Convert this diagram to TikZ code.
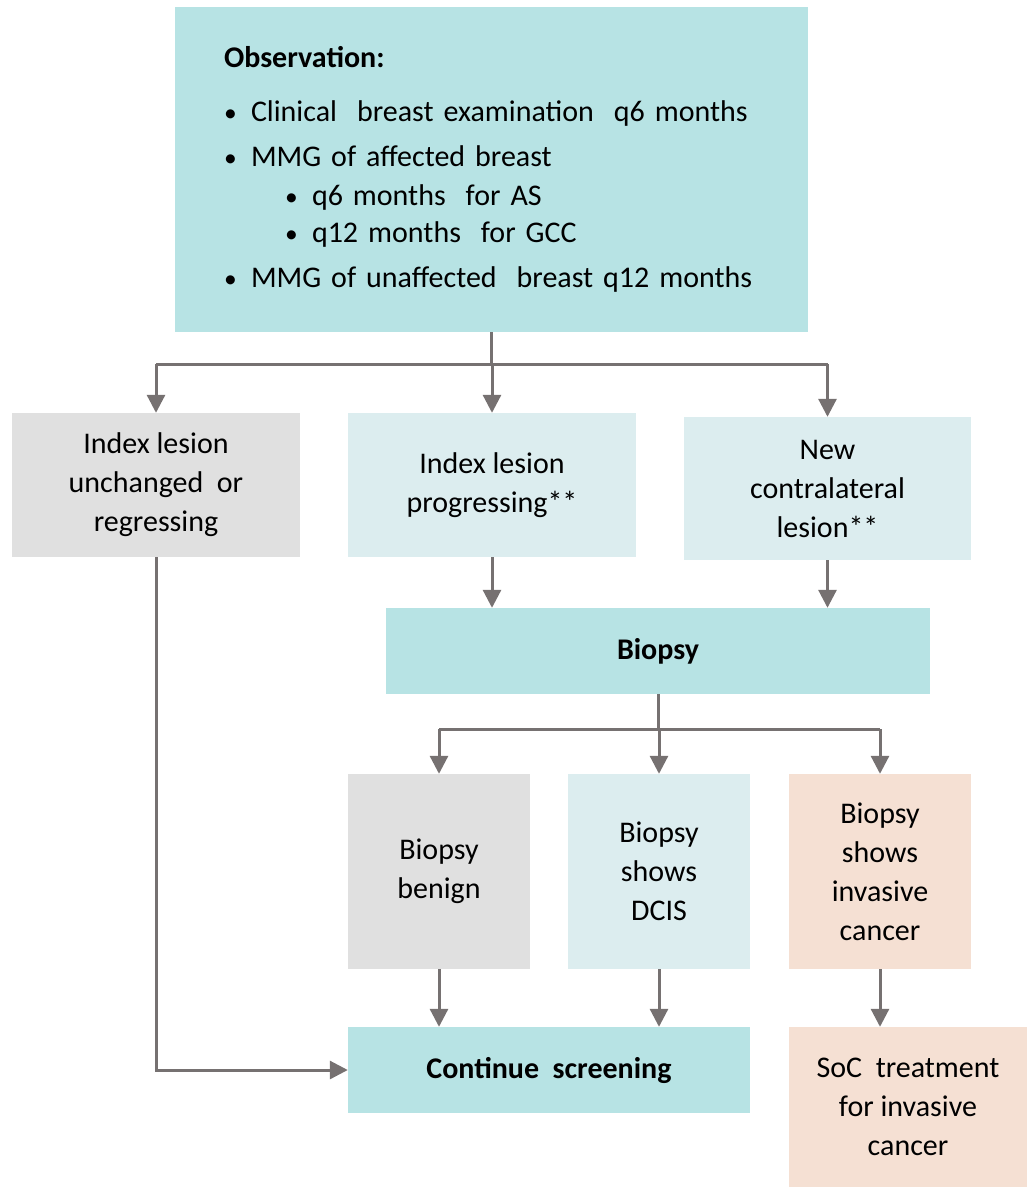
\documentclass[tikz,border=0pt]{standalone}
\usepackage{fontspec}
\setmainfont{Carlito}
\usepackage{xcolor}
\usepackage{tikz}
\usetikzlibrary{positioning,arrows.meta}

\definecolor{tealdark}{HTML}{B7E3E4}
\definecolor{teallight}{HTML}{DCEDEF}
\definecolor{greybox}{HTML}{E0E0E0}
\definecolor{peachbox}{HTML}{F5E0D3}
\definecolor{linegrey}{HTML}{767171}

\newcommand{\obsbul}{\makebox[27pt][l]{\scalebox{0.85}{\textbullet}}}

\tikzset{
  box/.style={rectangle, align=center, inner sep=0pt,
    font=\fontsize{30}{39}\selectfont},
  conn/.style={draw=linegrey, line width=3pt},
  arr/.style={conn, -{Triangle[length=18pt, width=18pt]}}
}

\begin{document}
\begin{tikzpicture}[x=1pt, y=-1pt]
\useasboundingbox (0,0) rectangle (1027,1187);

% top box
\node[box, fill=tealdark, align=left, text width=535pt, inner xsep=49pt,
      minimum width=633pt, minimum height=325pt] (obs) at (491.5,169.5)
  {\textbf{Observation:}\\[15pt]
   \obsbul Clinical\ \ breast examination\ \ q6\ months\\[6pt]
   \obsbul MMG of affected breast\\[0pt]
   \hspace{61pt}\obsbul q6\ months\ \ for AS\\[-2pt]
   \hspace{61pt}\obsbul q12\ months\ \ for GCC\\[6pt]
   \obsbul MMG of unaffected\ \ breast q12\ months};

% second row
\node[box, fill=greybox, minimum width=288pt, minimum height=144pt] (unch) at (156,485)
  {Index lesion\\unchanged\ \ or\\regressing};
\node[box, fill=teallight, minimum width=288pt, minimum height=144pt] (prog) at (492,485)
  {Index lesion\\progressing**};
\node[box, fill=teallight, minimum width=287pt, minimum height=143pt] (newl) at (827.5,488.5)
  {New\\contralateral\\lesion**};

\node[box, fill=tealdark, minimum width=544pt, minimum height=86pt] (biop) at (658,651)
  {\textbf{Biopsy}};

% biopsy results
\node[box, fill=greybox, minimum width=182pt, minimum height=195pt] (beni) at (439,871.5)
  {Biopsy\\benign};
\node[box, fill=teallight, minimum width=182pt, minimum height=195pt] (dcis) at (659,871.5)
  {Biopsy\\shows\\DCIS};
\node[box, fill=peachbox, minimum width=182pt, minimum height=195pt] (inva) at (880,871.5)
  {Biopsy\\shows\\invasive\\cancer};

\node[box, fill=tealdark, minimum width=402pt, minimum height=86pt] (cont) at (549,1070)
  {\textbf{Continue\ \ screening}};
\node[box, fill=peachbox, minimum width=238pt, minimum height=160pt] (soc) at (908,1107)
  {SoC\ \ treatment\\for invasive\\cancer};

% connectors
\coordinate (s1) at (493,364);
\coordinate (s2) at (659,729);

\draw[conn] (obs.south) -- (obs.south |- s1);
\draw[conn] (unch.north |- s1) -- (newl.north |- s1);
\draw[arr] (unch.north |- s1) -- (unch.north);
\draw[arr] (prog.north |- s1) -- (prog.north);
\draw[arr] (newl.north |- s1) -- (newl.north);

\draw[arr] (prog.south) -- (prog.south |- biop.north);
\draw[arr] (newl.south) -- (newl.south |- biop.north);

\draw[conn] (biop.south) -- (biop.south |- s2);
\draw[conn] (beni.north |- s2) -- (inva.north |- s2);
\draw[arr] (beni.north |- s2) -- (beni.north);
\draw[arr] (dcis.north |- s2) -- (dcis.north);
\draw[arr] (inva.north |- s2) -- (inva.north);

\draw[arr] (beni.south) -- (beni.south |- cont.north);
\draw[arr] (dcis.south) -- (dcis.south |- cont.north);
\draw[arr] (inva.south) -- (inva.south |- soc.north);
\draw[arr] (unch.south) |- (cont.west);
\end{tikzpicture}
\end{document}
